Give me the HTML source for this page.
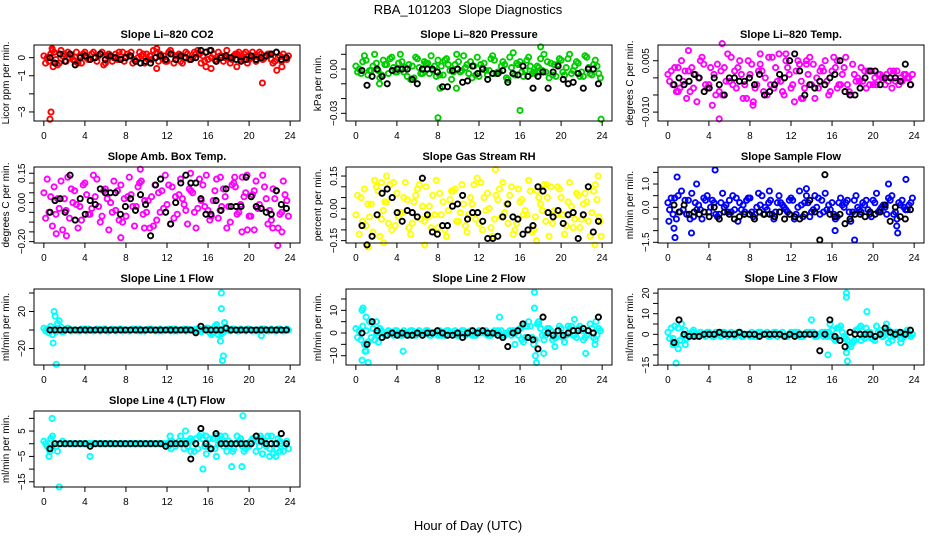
<!DOCTYPE html>
<html><head><meta charset="utf-8"><title>RBA_101203 Slope Diagnostics</title>
<style>
html,body{margin:0;padding:0;background:#fff;}
svg{display:block;font-family:"Liberation Sans",Arial,sans-serif;}
</style></head>
<body>
<svg id="chart" width="936" height="540" viewBox="0 0 936 540" xmlns="http://www.w3.org/2000/svg">
<rect x="0" y="0" width="936" height="540" fill="#fff"/>
<text x="468" y="14" text-anchor="middle" font-size="13">RBA_101203&#160; Slope Diagnostics</text>
<text x="468" y="530" text-anchor="middle" font-size="13">Hour of Day (UTC)</text>
</svg>
<script>
// ---- data (scaled units; multiply by panel scale) ----
const hourTicks = [0,4,8,12,16,20,24];

const co2A = [1,-2,3,-3,2,0,-2,1,3,-1,0,2,-3,1,2,-1,0,3,-2,1,2,-1,3,0,-2,2,1,-3,2,0,4,1,-1,2,3,-2,0,1,3,2,-1,1,3,0,2,-2,1,0];
const co2B = [-3,2,-1,4,-2,1,3,-3,0,2,-2,3,1,-2,-1,3,2,-3,0,2,-1,4,-2,1,3,-3,2,0,-1,3,2,-2,4,-1,1,0,-3,2,-1,3,0,-2,2,1,-1,3,-2,-1];
const co2C = [0,4,-4,1,3,-1,-3,2,-1,3,1,-4,2,0,3,-2,1,-1,3,-3,1,0,2,-2,4,1,-2,3,-1,2,-3,3,0,-2,1,4,-1,2,0,-3,3,1,-1,2,-3,0,2,1];
const co2Extra = [[0.6,-34],[0.7,-30],[0.8,5],[0.9,-5],[11,-6],[11,5],[21.3,-14],[22.7,-7],[23.2,-5],[15.8,-5],[16.3,-6],[18.8,-5]];
const co2Black = [0,-3,2,-2,2,-4,0,1,-1,0,2,-1,1,0,-1,0,1,-2,-3,-2,-3,0,1,-1,2,-1,1,0,-1,0,4,3,4,-2,0,1,0,-1,-2,-1,1,-1,0,1,2,3,-1,0];

const presA = [2,-3,6,-1,4,-4,3,8,-2,5,-5,2,7,-3,4,-1,6,-4,3,-2,5,9,-3,2,-5,4,-1,6,-2,3,8,-4,5,-1,2,-3,7,-2,4,-5,6,1,-3,5,-2,8,-4,2];
const presB = [-2,5,-4,2,-1,6,-3,1,4,-2,3,-6,1,5,-3,2,-4,6,-1,3,-2,1,5,-4,3,-1,7,-3,2,-6,1,4,-2,6,-3,2,-1,5,-4,3,-2,7,-1,4,-5,1,3,-3];
const presC = [0,9,-1,10,-6,3,7,-2,10,1,-7,8,-3,4,9,-5,2,7,-7,10,-1,3,-6,8,1,-4,9,-2,5,-7,11,3,-5,8,-2,1,10,-6,3,7,-4,10,2,-5,9,-3,6,-6];
const presExtra = [[8,-33],[16,-28],[18,15],[23.9,-34],[8.2,-13],[9.8,-13],[2.3,-10]];
const presBlack = [-1,-11,-5,0,-5,-10,-1,0,0,0,-7,-10,0,0,0,-2,-12,-12,-1,0,-9,-8,2,-3,0,-7,-3,-3,-1,-9,-3,-4,2,-5,-13,-5,-2,-13,-2,2,-7,-10,-9,-3,-13,0,0,-10];

const tempA = [1,-2,3,-1,2,-3,0,4,-2,1,-4,3,-1,2,5,-2,1,-3,4,0,-2,3,-1,5,-3,2,-1,4,-2,0,3,-1,2,-3,1,-2,4,0,-1,2,-2,1,0,-1,2,-2,1,0];
const tempB = [-1,3,-3,2,-4,1,5,-2,3,-5,2,-1,6,-3,1,-6,4,-2,2,-5,6,-1,-4,3,-2,5,-6,1,4,-3,2,-5,6,-2,3,-4,1,-1,2,-2,0,1,-2,2,-1,0,1,-2];
const tempC = [2,-4,5,-6,3,-7,6,-3,-8,4,-5,7,-2,3,-6,5,-7,2,-4,6,-3,7,-5,1,-7,4,-3,6,-6,2,5,-4,3,-2,6,-5,-1,3,-3,2,-2,0,1,-3,2,-1,0,1];
const tempExtra = [[2,8],[5,-12],[5.3,10],[8.3,-8],[1,-4],[9,7],[11.5,7],[13,-6],[13.5,5],[16.5,5]];
const tempBlack = [-2,0,-2,-1,1,0,-4,-3,0,-2,-5,0,0,-1,-1,0,-2,1,-5,-4,-2,1,0,5,7,2,-5,-2,-3,-1,-2,0,1,5,-4,-5,-5,-3,0,2,2,-2,0,0,0,-1,4,-2];

const ambA = [5,-5,8,-3,2,-8,6,-2,10,-6,3,-10,7,0,-4,9,-7,4,-2,11,-5,3,-9,6,-1,8,-6,2,-11,5,-3,9,-4,1,-8,7,-2,10,-5,3,-7,6,-1,8,-4,2,-6,4];
const ambB = [-8,3,-6,11,-4,7,-1,-9,4,-3,12,-7,2,-5,6,-10,3,-2,8,-6,1,-12,5,-3,9,-8,4,-1,7,-5,12,-2,-9,6,-4,3,-10,8,-1,5,-7,11,-3,2,-9,6,-5,1];
const ambC = [12,-12,2,-14,13,0,-13,9,-6,14,-2,6,-14,11,-9,2,13,-12,10,1,-13,9,-5,14,-11,3,12,-4,6,-13,1,14,-7,12,-2,-13,9,-6,13,-14,4,-3,14,-11,7,-13,11,-7];
const ambExtra = [[9.4,17],[14.3,15],[17.2,13],[18.6,13],[19.8,14],[2.2,-17],[7.5,-18],[9.8,-13],[19.3,-15],[20.5,-14],[22.3,-13],[22.8,-22],[23.2,-15],[1.2,-16]];
const ambBlack = [-5,1,2,-5,14,-9,2,-6,1,-1,7,5,5,5,-6,-2,2,-4,4,-1,-17,9,12,-5,-11,0,10,14,10,10,2,-6,-6,1,-4,7,-2,-2,-2,13,3,-2,-3,-5,-6,6,-1,-3];

const rhA = [-3,5,-8,2,10,-5,3,-10,7,-2,4,-7,9,1,-4,6,-9,3,-1,8,-6,2,-3,11,-7,5,0,-5,9,-2,6,-10,3,-1,8,-4,2,-6,10,-3,5,-8,1,7,-5,3,-2,4];
const rhB = [6,-6,2,-11,8,-1,-7,12,-4,5,-9,3,11,-6,1,-3,7,-10,4,9,-2,-8,5,-5,12,-1,-9,6,-4,2,10,-7,4,-3,-11,8,-1,5,-7,10,-3,3,-9,6,2,-6,8,-4];
const rhC = [-12,9,-4,13,-13,3,11,-8,-2,12,-12,6,-5,10,-9,13,-3,-13,8,-6,11,-11,2,14,-10,7,-13,4,12,-7,-12,9,-3,13,-10,5,11,-13,-1,9,-12,12,-5,-9,7,-13,11,-6];
const rhExtra = [[1.2,-18],[2.5,12],[3,15],[2.7,-16],[6.7,-17],[13.6,18],[17.6,-15],[18.6,11],[23.3,-17],[23.6,15],[23.9,-13]];
const rhBlack = [-8,-17,-13,-3,7,9,5,-2,-6,-1,-2,-4,14,-3,-11,-12,-8,-8,1,2,6,-5,-2,-2,-6,-14,-14,-13,-4,2,-4,-5,-12,-10,-8,10,8,-2,-4,-1,-7,-3,-2,-14,-3,10,-11,-6];

const flowA = [2,-3,5,-1,3,-4,1,4,-2,2,-3,0,3,-1,2,-2,4,-3,1,0,3,-2,2,-1,4,-3,1,5,-2,0,3,-1,2,-4,1,3,-2,0,2,-1,3,-2,1,4,-3,2,0,1];
const flowB = [-1,4,-2,3,-5,2,-1,3,0,-3,2,1,-2,4,-1,3,-2,0,5,-1,-3,2,1,-2,3,0,-4,2,-1,4,-2,1,-3,2,0,-2,3,-1,1,-3,2,-1,0,3,-2,1,-1,2];
const flowC = [4,-5,7,-3,6,-1,-5,5,3,-4,6,-2,5,-6,1,4,-4,6,-3,2,-5,5,0,3,-5,7,2,-4,5,-3,6,-1,-5,4,2,-6,5,-2,3,-4,6,0,-3,5,-5,3,-1,4];
const flowExtra = [[0.9,13],[0.6,-9],[0.7,-13],[2.3,-11],[2.8,10],[4.6,16],[9.9,7],[13.5,8],[16.3,-10],[18.2,-14],[21.5,10],[22.3,-8],[22.4,-11],[23.2,12],[0.1,-6]];
const flowBlack = [1,-2,1,-3,-2,-3,-2,-4,0,-5,-2,-3,-5,-4,-3,-3,-5,-2,-3,-3,-4,-2,-5,-3,-4,-5,-3,3,-2,-14,14,-3,-4,-3,-7,-5,-3,-3,-4,-2,-3,-2,1,-6,0,-4,-5,-1];

const l1A = [2,-3,1,0,-1,1,0,-1,1,0,0,-1,1,0,-1,1,0,0,1,-1,0,1,0,-1,0,1,-1,0,1,0,-1,0,2,-3,1,-2,0,1,-1,0,1,0,-1,1,0,-1,1,0];
const l1B = [-1,4,-2,3,1,-1,0,1,-1,0,1,0,-1,1,0,-1,0,1,-1,0,1,0,-1,0,1,-1,0,1,0,-1,1,0,-3,4,-2,3,-1,0,1,-1,0,-1,1,0,1,-1,0,1];
const l1C = [1,-5,7,-2,2,0,-1,0,1,-1,0,1,-1,0,1,0,-1,0,1,-1,0,-1,1,0,-1,1,0,-1,0,1,-2,2,-5,6,-4,2,1,-1,0,1,-1,0,1,-1,0,1,-1,0];
const l1Extra = [[1.0,20],[1.1,15],[0.9,-14],[1.2,-37],[17.3,40],[17.3,23],[17.2,-12],[17.5,-28],[17.4,-33],[17.6,8],[1.5,10],[21.2,-6],[17,-5]];
const l1Black = [0,0,0,0,0,0,0,0,0,0,0,0,0,0,0,0,0,0,0,0,0,0,0,0,0,0,0,0,0,-3,4,0,0,0,0,2,0,0,0,0,0,0,0,0,0,0,0,0];

const l2A = [2,-3,1,-2,0,1,-1,0,1,-1,0,1,0,-1,1,0,-1,0,1,0,-1,1,0,-1,1,0,-1,1,0,-1,1,0,2,-2,3,-3,2,-1,1,-2,2,-1,3,-2,1,-1,2,-1];
const l2B = [-2,3,-4,2,-1,0,1,-1,0,1,-1,0,1,0,-1,0,1,-1,0,1,0,-1,1,-1,0,1,-1,0,1,0,-1,1,-3,3,-2,4,-1,2,-3,1,-2,3,-1,2,-3,1,-2,2];
const l2C = [1,-5,5,-3,2,-1,0,1,-1,0,1,-1,0,1,-1,0,-1,1,0,-1,1,0,-1,0,1,-1,0,1,-1,0,1,-1,-4,5,-5,4,-3,2,-2,3,-4,2,-1,3,-2,4,-3,1];
const l2Extra = [[0.6,10],[0.7,11],[0.6,-12],[1.0,7],[1.0,-8],[1.2,-13],[2.0,5],[2.2,-4],[4.6,-8],[14,7],[15.5,-5],[16.3,3],[17.4,18],[17.4,11],[17.5,-10],[17.6,-13],[17.8,5],[18.3,-9],[19.4,-6],[21.3,6],[22.4,-9],[23.3,-5],[23.4,5],[0.9,-8]];
const l2Black = [0,-5,5,1,-2,-1,0,-1,0,-1,-1,0,-1,0,0,1,0,-1,-1,0,-2,0,1,0,1,0,0,-1,-2,-6,0,1,4,-2,-3,-7,7,0,-1,1,-1,0,1,1,2,1,0,7];

const l3A = [1,-2,3,-1,0,1,-1,0,1,-1,0,1,0,-1,1,0,-1,0,1,0,-1,1,0,-1,1,0,-1,1,0,-1,1,-1,2,-2,1,-3,-4,2,-1,1,-2,1,-1,2,-1,1,-1,0];
const l3B = [-2,4,-3,2,-1,0,1,-1,0,1,-1,0,1,0,-1,0,1,-1,0,1,0,-1,1,-1,0,1,-1,0,1,0,-1,1,-2,3,-1,-5,-3,3,-2,1,-3,2,0,-1,1,-2,1,-1];
const l3C = [3,-4,5,-2,1,-1,0,1,-1,0,1,-1,0,1,-1,0,-1,1,0,-1,1,0,-1,0,1,-1,0,1,-1,0,1,-1,-3,4,-2,-6,2,-3,3,-2,4,-1,2,-3,1,-2,2,0];
const l3Extra = [[0.5,-5],[0.8,-14],[1.0,-7],[1.7,-5],[2.5,2],[14,7],[15.6,-10],[15.8,5],[17.4,20],[17.4,18],[17.5,-13],[17.4,-9],[19.4,11],[18.8,4],[21.3,5],[21.5,-4],[22.7,-4],[16.5,3]];
const l3Black = [-4,7,0,-1,-1,-1,0,0,0,1,0,0,0,1,0,0,0,-1,0,0,0,0,-1,0,-1,0,0,0,0,-8,0,7,-1,-3,-6,1,0,0,0,0,-1,0,3,1,0,1,0,2];

const l4A = [1,-2,0,0,0,0,0,0,0,0,0,0,0,0,0,0,0,0,0,0,0,0,0,0,0,1,0,0,-1,1,-2,2,-1,2,0,-1,1,-2,1,0,-1,2,-1,1,-2,0,1,-1];
const l4B = [0,2,-1,0,0,0,0,0,0,0,0,0,0,0,0,0,0,0,0,0,0,0,0,0,-1,0,1,-2,1,-3,3,-1,2,-2,1,3,-1,0,2,-2,1,-3,2,-1,3,-2,0,1];
const l4C = [-1,3,-3,1,0,0,0,0,0,0,0,0,0,0,0,0,0,0,0,0,0,0,0,0,1,-1,3,1,-3,2,4,-4,-2,3,2,-3,0,3,-1,-1,2,1,-4,3,-4,2,-3,-2];
const l4Extra = [[0.8,10],[0.5,-5],[0.6,-3],[1.5,-17],[4.5,-5],[12.3,3],[12.4,-2],[13.8,5],[14.3,2],[15.5,-10],[15.8,3],[16.8,-5],[17.2,3],[18.3,-9],[18.4,-3],[19.3,-9],[19.4,11],[19.5,-3],[21.3,-4],[22,-5],[22.6,-5],[23,-3],[21.1,3]];
const l4Black = [-2,0,0,0,0,0,0,0,-1,0,0,0,0,0,0,0,0,0,0,0,0,0,0,-1,0,0,0,0,-6,0,6,0,-2,4,0,0,0,0,0,0,0,3,1,0,0,0,4,0];

// ---- y tick values / labels ----
const co2Ticks = [0,-1,-2,-3], co2Labels = ["0","\u22121","","\u22123"];
const presTicks = [0.01,0,-0.01,-0.02,-0.03], presLabels = ["","0.00","","","\u22120.03"];
const tempTicks = [0.005,0,-0.005,-0.010], tempLabels = ["0.005","","","\u22120.010"];
const ambTicks = [0.15,0.10,0.05,0,-0.05,-0.10,-0.15,-0.20], ambLabels = ["0.15","","","0.00","","","","\u22120.20"];
const rhTicks = [0.15,0.10,0.05,0,-0.05,-0.10,-0.15], rhLabels = ["0.15","","","0.00","","","\u22120.15"];
const flowTicks = [1.5,1.0,0.5,0,-0.5,-1.0,-1.5], flowLabels = ["","1.0","","0.0","","","\u22121.5"];
const l1Ticks = [40,20,0,-20], l1Labels = ["","20","","\u221220"];
const l2Ticks = [15,10,5,0,-5,-10], l2Labels = ["","10","","0","","\u221210"];
const l3Ticks = [20,15,10,5,0,-5,-10,-15], l3Labels = ["20","","10","","0","","","\u221215"];
const l4Ticks = [10,5,0,-5,-10,-15], l4Labels = ["","5","","\u22125","","\u221215"];

// ---- panel definitions (layout) ----
const panels = [
 {name:'co2',title:'Slope Li\u2013820 CO2',ylab:'Licor ppm per min.',col:'#ff0000',s:0.1,ymin:-3.5,ymax:0.7,A:co2A,B:co2B,C:co2C,E:co2Extra,K:co2Black,T:co2Ticks,L:co2Labels,c:0,r:0},
 {name:'pressure',title:'Slope Li\u2013820 Pressure',ylab:'kPa per min.',col:'#00cd00',s:0.001,ymin:-0.0352,ymax:0.0163,A:presA,B:presB,C:presC,E:presExtra,K:presBlack,T:presTicks,L:presLabels,c:1,r:0},
 {name:'temp',title:'Slope Li\u2013820 Temp.',ylab:'degrees C per min.',col:'#ff00ff',s:0.001,ymin:-0.0126,ymax:0.0096,A:tempA,B:tempB,C:tempC,E:tempExtra,K:tempBlack,T:tempTicks,L:tempLabels,c:2,r:0},
 {name:'amb-box-temp',title:'Slope Amb. Box Temp.',ylab:'degrees C per min.',col:'#ff00ff',s:0.01,ymin:-0.207,ymax:0.182,A:ambA,B:ambB,C:ambC,E:ambExtra,K:ambBlack,T:ambTicks,L:ambLabels,c:0,r:1},
 {name:'gas-stream-rh',title:'Slope Gas Stream RH',ylab:'percent per min.',col:'#ffff00',s:0.01,ymin:-0.161,ymax:0.192,A:rhA,B:rhB,C:rhC,E:rhExtra,K:rhBlack,T:rhTicks,L:rhLabels,c:1,r:1},
 {name:'sample-flow',title:'Slope Sample Flow',ylab:'ml/min per min.',col:'#0000ff',s:0.1,ymin:-1.53,ymax:1.73,A:flowA,B:flowB,C:flowC,E:flowExtra,K:flowBlack,T:flowTicks,L:flowLabels,c:2,r:1},
 {name:'line1-flow',title:'Slope Line 1 Flow',ylab:'ml/min per min.',col:'#00ffff',s:1,ymin:-37.8,ymax:44.3,A:l1A,B:l1B,C:l1C,E:l1Extra,K:l1Black,T:l1Ticks,L:l1Labels,c:0,r:2},
 {name:'line2-flow',title:'Slope Line 2 Flow',ylab:'ml/min per min.',col:'#00ffff',s:1,ymin:-14.1,ymax:19.4,A:l2A,B:l2B,C:l2C,E:l2Extra,K:l2Black,T:l2Ticks,L:l2Labels,c:1,r:2},
 {name:'line3-flow',title:'Slope Line 3 Flow',ylab:'ml/min per min.',col:'#00ffff',s:1,ymin:-14.9,ymax:22,A:l3A,B:l3B,C:l3C,E:l3Extra,K:l3Black,T:l3Ticks,L:l3Labels,c:2,r:2},
 {name:'line4-flow',title:'Slope Line 4 (LT) Flow',ylab:'ml/min per min.',col:'#00ffff',s:1,ymin:-17.05,ymax:12.9,A:l4A,B:l4B,C:l4C,E:l4Extra,K:l4Black,T:l4Ticks,L:l4Labels,c:0,r:3}
];

const NS='http://www.w3.org/2000/svg';
const svg=document.getElementById('chart');
const colX=[34,346,658], BW=266, BH=76;
function mk(tag,attrs,parent){const e=document.createElementNS(NS,tag);for(const k in attrs)e.setAttribute(k,attrs[k]);parent.appendChild(e);return e;}

panels.forEach(p=>{
  const x0=colX[p.c], y0=45+122*p.r;
  const xs=h=>x0+(h+0.96)/25.92*BW;
  const ys=v=>y0+(p.ymax-v)/(p.ymax-p.ymin)*BH;
  const g=mk('g',{},svg);
  
  
  const t=mk('text',{x:x0+BW/2,y:y0-7,'text-anchor':'middle','font-size':'11','font-weight':'bold'},g);
  t.textContent=p.title;
  
  
  const pts=mk('g',{fill:'none','stroke-width':'1.9'},g);
  
  
  const dot=(h,v,col,nm)=>{const c=mk('circle',{cx:xs(h).toFixed(1),cy:ys(v*p.s).toFixed(1),r:'2.6',stroke:col},pts);
    
    };
  [[p.A,0],[p.B,0.17],[p.C,0.33]].forEach(([arr,off])=>arr.forEach((v,i)=>dot(i*0.5+off,v,p.col,p.name+'-point')));
  p.E.forEach(d=>dot(d[0],d[1],p.col,p.name+'-outlier'));
  p.K.forEach((v,i)=>dot(0.6+i*0.49,v,'#000',p.name+'-reference-point'));
  const b=mk('rect',{x:x0,y:y0,width:BW,height:BH,fill:'none',stroke:'#000','stroke-width':'1'},g);
  
  
  const xa=mk('g',{},g);
  
  
  hourTicks.forEach(h=>{
    mk('line',{x1:xs(h),x2:xs(h),y1:y0+BH,y2:y0+BH+5,stroke:'#000'},xa);
    const tl=mk('text',{x:xs(h),y:y0+BH+18,'text-anchor':'middle','font-size':'10'},xa);
    tl.textContent=h;
    
    
  });
  const ya=mk('g',{},g);
  
  
  p.T.forEach((v,i)=>{
    const y=ys(v);
    mk('line',{x1:x0-5,x2:x0,y1:y,y2:y,stroke:'#000'},ya);
    if(p.L[i]){
      const tl=mk('text',{x:x0-9,y:y,'text-anchor':'middle','font-size':'10',transform:`rotate(-90 ${x0-9} ${y})`},ya);
      tl.textContent=p.L[i];
      
      
    }
  });
  const yl=mk('text',{x:x0-25,y:y0+BH/2,'text-anchor':'middle','font-size':'10',transform:`rotate(-90 ${x0-25} ${y0+BH/2})`},ya);
  yl.textContent=p.ylab;
  
  
});
</script>
</body></html>
